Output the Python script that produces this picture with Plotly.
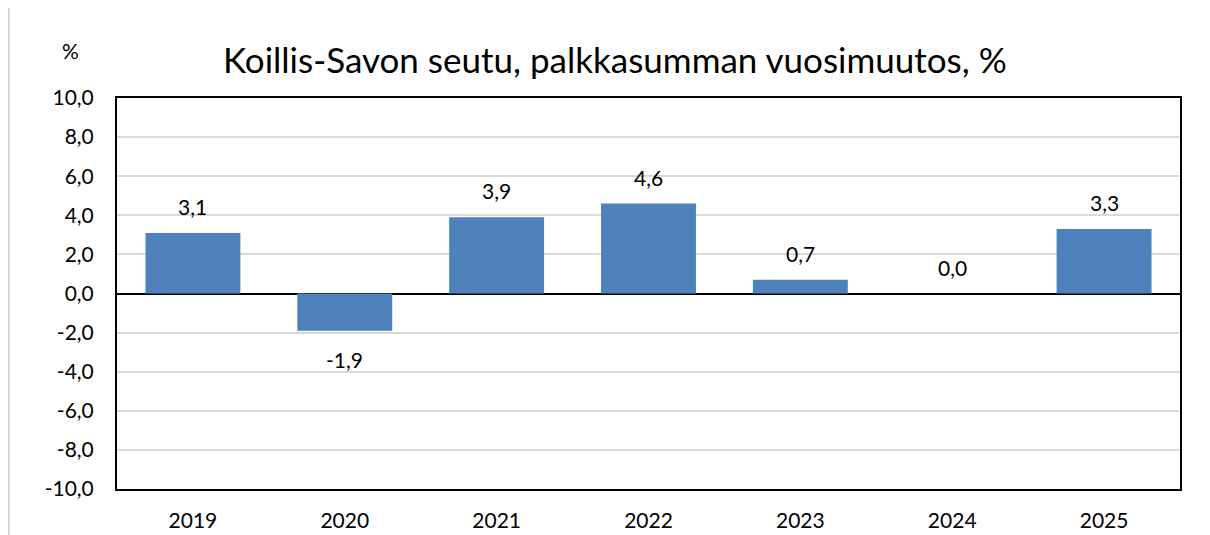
import plotly.graph_objects as go

years = ["2019", "2020", "2021", "2022", "2023", "2024", "2025"]
values = [3.1, -1.9, 3.9, 4.6, 0.7, 0.0, 3.3]
y_ticks = [-10, -8, -6, -4, -2, 0, 2, 4, 6, 8, 10]
y_tick_labels = [f"{t:.1f}".replace(".", ",") for t in y_ticks]
title_text = "Koillis-Savon seutu, palkkasumman vuosimuutos, %"
unit_text = "%"

OFF = 8  # page body margin
W, H = 1210 - OFF, 535 - OFF
# plot area in page pixels
L, R, T, B = 117, 1180, 98, 489
FONT = "Lato, Calibri, Carlito, sans-serif"

def px_x(px):
    return (px - L) / (R - L)

def px_y(py):
    return (B - py) / (B - T)

fig = go.Figure()
fig.add_trace(go.Bar(
    x=years, y=values,
    marker=dict(color="#4f81bd", line=dict(width=0)),
    width=0.625,
    hoverinfo="x+y",
))

for i, v in enumerate(values):
    fig.add_annotation(
        x=i, y=v, xref="x", yref="y",
        text=f"{v:.1f}".replace(".", ","),
        showarrow=False,
        yanchor="bottom" if v >= 0 else "top",
        yshift=12 if v >= 0 else -14,
        font=dict(family=FONT, size=21, color="#000000"),
    )

fig.add_annotation(
    x=px_x(615), y=px_y(59), xref="paper", yref="paper",
    text=title_text, showarrow=False,
    xanchor="center", yanchor="middle",
    font=dict(family=FONT, size=35, color="#000000"),
)
fig.add_annotation(
    x=px_x(70), y=px_y(50), xref="paper", yref="paper",
    text=unit_text, showarrow=False,
    xanchor="center", yanchor="middle",
    font=dict(family=FONT, size=21, color="#000000"),
)

# outer chart-area frame (light gray, top and left)
fig.add_shape(type="line", xref="paper", yref="paper",
              x0=px_x(8), x1=px_x(1201), y0=px_y(7), y1=px_y(7),
              line=dict(color="#d9d9d9", width=2))
fig.add_shape(type="line", xref="paper", yref="paper",
              x0=px_x(9), x1=px_x(9), y0=px_y(7), y1=px_y(540),
              line=dict(color="#d9d9d9", width=2))

fig.update_layout(
    width=W, height=H,
    margin=dict(l=L - OFF, r=W - (R - OFF), t=T - OFF, b=H - (B - OFF), pad=0),
    paper_bgcolor="white", plot_bgcolor="white",
    showlegend=False,
    bargap=0.375,
    font=dict(family=FONT, size=21, color="#000000"),
    xaxis=dict(
        type="category",
        range=[-0.5, len(years) - 0.5],
        automargin=False,
        showgrid=False,
        showline=True, linecolor="#000000", linewidth=2, mirror=True,
        ticks="", ticklabelstandoff=12,
        tickfont=dict(family=FONT, size=21, color="#000000"),
        zeroline=False,
    ),
    yaxis=dict(
        range=[-10, 10],
        automargin=False,
        tickmode="array",
        tickvals=y_ticks,
        ticktext=y_tick_labels,
        showgrid=True, gridcolor="#d9d9d9", gridwidth=1.5,
        showline=True, linecolor="#000000", linewidth=2, mirror=True,
        zeroline=True, zerolinecolor="#000000", zerolinewidth=2,
        ticks="", ticklabelstandoff=17,
        tickfont=dict(family=FONT, size=21, color="#000000"),
    ),
)

fig.write_html("out.html")
